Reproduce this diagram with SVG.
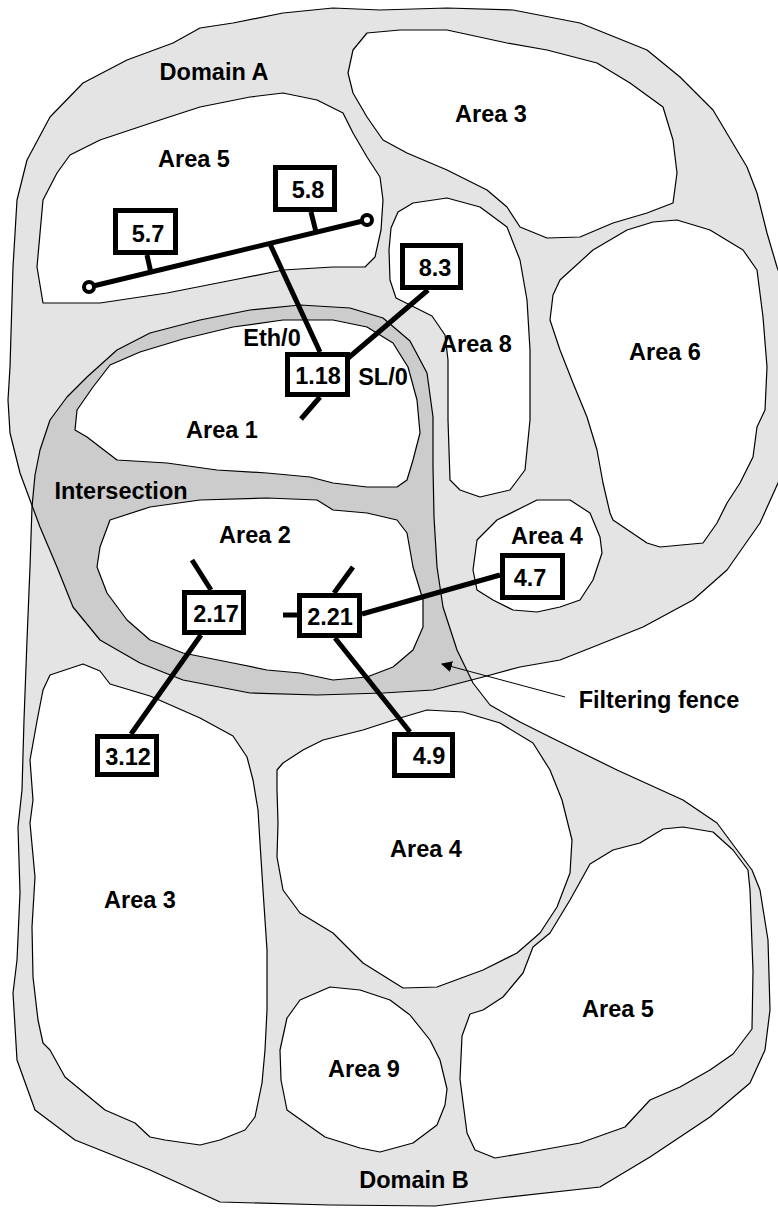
<svg xmlns="http://www.w3.org/2000/svg" width="778" height="1209" viewBox="0 0 778 1209">
<style>
.dom{fill:#e4e4e4;stroke:none}
.edge{fill:none;stroke:#000;stroke-width:1.2;stroke-linejoin:round}
.area{fill:#fff;stroke:#000;stroke-width:1.2;stroke-linejoin:round}
.lbl{font-family:"Liberation Sans",Arial,sans-serif;font-weight:bold;font-size:23.5px;fill:#000;text-anchor:middle}
.box{fill:#fff;stroke:#000;stroke-width:5}
.wire{stroke:#000;stroke-width:5;stroke-linecap:butt;fill:none}
.end{fill:#fff;stroke:#000;stroke-width:4}
</style>
<defs>
<path id="pA" d="M333,8 L380,10 L447,8 L513,10 L580,23 L647,50 L680,77 L713,110 L747,167 L757,193 L767,233 L777,267 L790,300 L790,450 L778,483 L760,523 L727,570 L693,600 L643,627 L593,647 L560,660 L520,667 L483,677 L433,690 L383,693 L317,695 L250,693 L183,680 L140,663 L100,640 L73,607 L57,567 L40,527 L30,500 L20,473 L10,433 L8,400 L10,367 L13,267 L17,200 L27,160 L50,117 L83,83 L127,60 L173,43 L200,28 L233,23 L283,13 Z"/>
<path id="pB" d="M40,450 L50,420 L67,397 L87,377 L117,350 L150,333 L200,320 L250,310 L300,305 L350,308 L383,318 L410,341 L427,373 L433,417 L433,467 L434,517 L437,567 L443,607 L457,650 L473,683 L490,705 L520,722 L550,737 L617,770 L650,785 L683,800 L717,823 L737,850 L752,870 L760,890 L768,940 L770,1010 L765,1050 L750,1083 L710,1117 L650,1157 L600,1187 L500,1198 L435,1206 L330,1205 L220,1202 L150,1170 L75,1140 L35,1110 L17,1060 L13,993 L17,960 L20,893 L18,827 L22,790 L24,720 L27,640 L30,567 L32,507 L35,475 Z"/>
<clipPath id="clipA"><use href="#pA"/></clipPath>
<marker id="arrow" viewBox="0 0 10 10" refX="9" refY="5" markerWidth="11" markerHeight="11" markerUnits="userSpaceOnUse" orient="auto">
<path d="M0,0 L10,5 L0,10 Z" fill="#000"/>
</marker>
</defs>

<g id="domains">
<use href="#pA" class="dom"/>
<use href="#pB" class="dom"/>
<use href="#pB" style="fill:#cccccc;stroke:none" clip-path="url(#clipA)"/>
<use href="#pA" class="edge"/>
<use href="#pB" class="edge"/>
</g>

<g id="areas">
<path id="area5A" class="area" d="M70,155 L100,140 L160,120 L200,107 L250,97 L283,93 L317,100 L343,113 L353,133 L367,157 L380,177 L383,200 L381,230 L375,257 L365,267 L333,267 L283,270 L233,280 L167,293 L100,303 L43,303 L37,267 L43,200 L57,173 Z"/>
<path id="area3A" class="area" d="M353,50 L367,33 L400,30 L447,30 L507,43 L547,50 L597,63 L630,83 L663,107 L673,140 L677,173 L673,203 L647,213 L613,223 L580,237 L547,238 L520,227 L507,207 L487,190 L447,170 L407,153 L383,140 L367,117 L353,93 L348,73 Z"/>
<path id="area8A" class="area" d="M398,212 L413,203 L447,198 L480,207 L507,227 L520,260 L527,300 L530,350 L530,420 L525,470 L510,490 L480,497 L460,490 L450,480 L448,420 L448,360 L445,335 L432,316 L412,306 L396,298 L390,280 L389,250 L391,228 Z"/>
<path id="area6A" class="area" d="M560,280 L593,250 L627,230 L653,222 L677,220 L710,230 L743,250 L757,270 L763,317 L767,367 L765,410 L757,427 L753,457 L740,483 L727,503 L717,523 L703,543 L660,547 L647,543 L613,520 L610,513 L603,483 L597,450 L587,417 L573,383 L560,350 L550,320 L553,295 Z"/>
<path id="area4A" class="area" d="M477,540 L497,520 L537,500 L570,500 L590,513 L600,537 L602,553 L593,580 L580,600 L560,607 L537,612 L513,610 L493,600 L477,590 L473,570 Z"/>
<path id="area1" class="area" d="M93,387 L110,365 L140,352 L183,339 L233,327 L283,320 L333,320 L367,327 L393,343 L408,367 L417,400 L420,433 L413,460 L407,480 L397,487 L367,487 L333,483 L310,477 L267,473 L217,470 L167,463 L117,460 L100,447 L87,437 L75,430 L77,410 Z"/>
<path id="area2" class="area" d="M110,520 L150,507 L200,500 L267,498 L317,500 L333,510 L367,513 L397,520 L407,533 L413,567 L423,600 L423,627 L413,650 L393,667 L367,677 L333,680 L300,673 L267,670 L233,663 L183,653 L150,640 L127,620 L107,593 L97,567 L100,547 Z"/>
<path id="area3B" class="area" d="M43,690 L50,675 L83,664 L100,671 L110,684 L150,696 L200,718 L233,736 L247,757 L253,780 L258,810 L260,843 L263,890 L267,950 L267,1010 L265,1050 L262,1083 L255,1117 L245,1130 L220,1140 L200,1145 L165,1140 L150,1137 L135,1123 L105,1110 L65,1077 L50,1050 L43,1043 L38,1020 L33,977 L32,927 L35,877 L30,823 L33,800 L30,760 L37,721 Z"/>
<path id="area4B" class="area" d="M277,770 L283,763 L303,750 L323,740 L363,730 L400,718 L427,710 L463,712 L500,723 L533,743 L550,770 L562,800 L572,840 L570,873 L557,907 L540,933 L517,953 L483,970 L437,987 L403,988 L363,963 L333,933 L300,913 L283,890 L277,857 L278,823 L277,790 Z"/>
<path id="area5B" class="area" d="M590,864 L613,850 L640,843 L663,829 L683,827 L713,832 L733,850 L748,870 L750,890 L753,971 L752,1029 L733,1054 L710,1070 L680,1087 L650,1100 L625,1127 L580,1143 L525,1153 L495,1158 L475,1150 L467,1133 L460,1079 L462,1036 L470,1014 L483,1010 L503,997 L523,973 L533,947 L550,933 L570,900 Z"/>
<path id="area9B" class="area" d="M287,1018 L300,1000 L330,987 L360,990 L390,1000 L410,1015 L430,1040 L440,1060 L447,1089 L445,1105 L437,1125 L413,1143 L380,1152 L360,1148 L325,1137 L287,1110 L281,1080 L280,1050 Z"/>
</g>

<g id="labels" class="lbl">
<text x="214" y="80">Domain A</text>
<text x="491" y="122">Area 3</text>
<text x="194" y="167">Area 5</text>
<text x="476" y="352">Area 8</text>
<text x="665" y="360">Area 6</text>
<text x="272" y="346">Eth/0</text>
<text x="383" y="385">SL/0</text>
<text x="222" y="438">Area 1</text>
<text x="121" y="499">Intersection</text>
<text x="255" y="543">Area 2</text>
<text x="547" y="544">Area 4</text>
<text x="659" y="708">Filtering fence</text>
<text x="426" y="857">Area 4</text>
<text x="140" y="908">Area 3</text>
<text x="618" y="1017">Area 5</text>
<text x="364" y="1077">Area 9</text>
<text x="414" y="1188">Domain B</text>
</g>

<g id="connectors">
<line class="wire" x1="89" y1="287" x2="367" y2="220"/>
<line class="wire" x1="147" y1="255" x2="151" y2="273"/>
<line class="wire" x1="311" y1="212" x2="316" y2="232"/>
<line class="wire" x1="270" y1="244" x2="320" y2="352"/>
<line class="wire" x1="347" y1="359" x2="428" y2="290"/>
<line class="wire" x1="320" y1="397" x2="301" y2="419"/>
<line class="wire" x1="192" y1="560" x2="211" y2="590"/>
<line class="wire" x1="201" y1="635" x2="131" y2="734"/>
<line class="wire" x1="283" y1="615" x2="297" y2="615"/>
<line class="wire" x1="353" y1="567" x2="334" y2="593"/>
<line class="wire" x1="362" y1="614" x2="500" y2="575"/>
<line class="wire" x1="335" y1="638" x2="410" y2="732"/>
<circle class="end" cx="89" cy="287" r="5"/>
<circle class="end" cx="367" cy="220" r="5"/>
<line x1="565" y1="697" x2="442" y2="664" stroke="#000" stroke-width="1" marker-end="url(#arrow)"/>
</g>

<g id="n5_7"><rect class="box" x="115.5" y="210.5" width="60" height="42"/><text class="lbl" x="148" y="242">5.7</text></g>
<g id="n5_8"><rect class="box" x="275.5" y="167.5" width="59" height="42"/><text class="lbl" x="308" y="198">5.8</text></g>
<g id="n8_3"><rect class="box" x="402.5" y="245.5" width="58" height="42"/><text class="lbl" x="435" y="276">8.3</text></g>
<g id="n1_18"><rect class="box" x="287.5" y="354.5" width="60" height="40"/><text class="lbl" x="318" y="384">1.18</text></g>
<g id="n2_17"><rect class="box" x="184.5" y="592.5" width="59" height="40"/><text class="lbl" x="216" y="622">2.17</text></g>
<g id="n2_21"><rect class="box" x="299.5" y="595.5" width="60" height="40"/><text class="lbl" x="330" y="625">2.21</text></g>
<g id="n4_7"><rect class="box" x="502.5" y="555.5" width="60" height="42"/><text class="lbl" x="530" y="586">4.7</text></g>
<g id="n3_12"><rect class="box" x="97.5" y="736.5" width="59" height="38"/><text class="lbl" x="128" y="765">3.12</text></g>
<g id="n4_9"><rect class="box" x="394.5" y="734.5" width="58" height="41"/><text class="lbl" x="429" y="764">4.9</text></g>
</svg>
